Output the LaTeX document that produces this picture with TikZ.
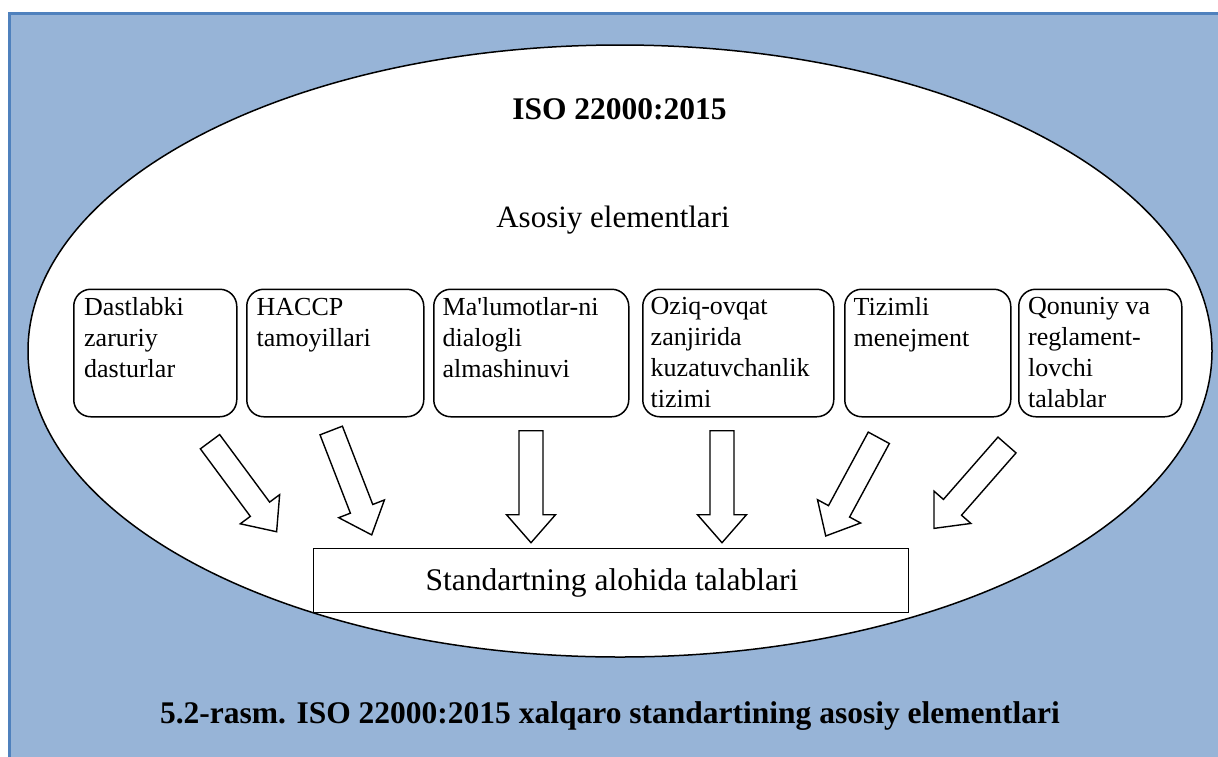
\documentclass[tikz,border=0pt]{standalone}
\usepackage{fontspec}
\setmainfont{Liberation Serif}[Ligatures=TeXOff]
\usetikzlibrary{shapes.geometric}
\definecolor{bgtop}{RGB}{151,180,215}
\definecolor{bgmid}{RGB}{84,130,190}
\definecolor{frameblue}{RGB}{79,129,189}
\tikzset{
  elbox/.style={draw=black, line width=1.5pt, rounded corners=17pt, fill=white,
    minimum height=127.5pt, inner sep=0pt, anchor=north west},
  eltext/.style={anchor=north west, inner sep=0pt, align=left,
    font=\fontsize{26}{31}\selectfont},
  bigtext/.style={anchor=base, inner sep=0pt, font=\fontsize{31}{36}\selectfont},
  boldtext/.style={anchor=base, inner sep=0pt, font=\fontsize{31.5}{36}\selectfont\bfseries},
  arrowbox/.style={draw=black, line width=1.4pt, fill=white, line join=miter},
}
\newcommand\blockarrow[3]{%
  \begin{scope}[shift={#1}, rotate=#2]
    \draw[arrowbox] (0,-12) -- (#3-28,-12) -- (#3-28,-24.5) -- (#3,0)
      -- (#3-28,24.5) -- (#3-28,12) -- (0,12) -- cycle;
  \end{scope}}
\begin{document}
\begin{tikzpicture}[x=1pt,y=-1pt]
\useasboundingbox (0,0) rectangle (1218,756);
\clip (0,0) rectangle (1218,756);
% background panel
\shade[top color=bgtop, middle color=bgmid, bottom color=bgtop]
  (9.5,13.5) rectangle (1230,770);
\draw[frameblue, line width=3pt] (1230,13.5) -- (9.5,13.5) -- (9.5,770);
% ellipse
\node[draw=black, line width=1.5pt, fill=white, ellipse, inner sep=0pt,
  minimum width=1184pt, minimum height=612pt] (ell) at (620,351) {};
\node[boldtext] (title) at (619.5,119) {ISO 22000:2015};
\node[bigtext] (sub) at (613,227) {Asosiy elementlari};
% element boxes
\node[elbox, minimum width=163pt] (b1) at (73,288.5) {};
\node[elbox, minimum width=177pt] (b2) at (246,288.5) {};
\node[elbox, minimum width=195pt] (b3) at (433,288.5) {};
\node[elbox, minimum width=191pt] (b4) at (642,288.5) {};
\node[elbox, minimum width=166pt] (b5) at (844,288.5) {};
\node[elbox, minimum width=163pt] (b6) at (1018,288.5) {};
\node[eltext] (t1) at (84,297.2) {Dastlabki\\zaruriy\\dasturlar};
\node[eltext] (t2) at (256.5,297.6) {HACCP\\tamoyillari};
\node[eltext] (t3) at (442.5,297.2) {Ma'lumotlar-ni\\dialogli\\almashinuvi};
\node[eltext] (t4) at (650.5,297.2) {Oziq-ovqat\\zanjirida\\kuzatuvchanlik\\tizimi};
\node[eltext] (t5) at (853.5,297.2) {Tizimli\\menejment};
\node[eltext] (t6) at (1028,297.2) {Qonuniy va\\reglament-\\lovchi\\talablar};
% block arrows
\blockarrow{(210,441.7)}{-53.5}{112}
\blockarrow{(331.2,430.5)}{-68.8}{112}
\blockarrow{(531,430.7)}{-90}{112}
\blockarrow{(722,430.7)}{-90}{112}
\blockarrow{(878.8,437.8)}{-118.4}{111.6}
\blockarrow{(1007,445)}{-131.2}{110.8}
% result box
\node[draw=black, line width=1.5pt, fill=white, inner sep=0pt,
  minimum width=595pt, minimum height=64pt] (res) at (611,580.3) {};
\node[bigtext, font=\fontsize{31.5}{36}\selectfont] (rest) at (612,590) {Standartning alohida talablari};
% caption
\node[boldtext] (cap) at (610,723) {5.2-rasm. ISO 22000:2015 xalqaro standartining asosiy elementlari};
\end{tikzpicture}
\end{document}
